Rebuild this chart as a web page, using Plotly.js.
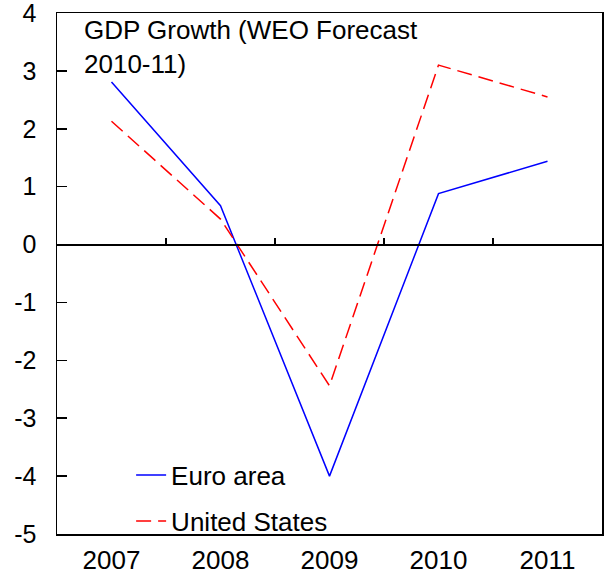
<!DOCTYPE html>
<html>
<head>
<meta charset="utf-8">
<script src="https://cdn.plot.ly/plotly-3.0.1.min.js"></script>
<style>html,body{margin:0;padding:0;background:#fff;}#chart{width:605px;height:575px;}</style>
</head>
<body>
<div id="chart"></div>
<script>
const years = ["2007", "2008", "2009", "2010", "2011"];
const euroArea = [2.81, 0.67, -4.0, 0.88, 1.44];
const unitedStates = [2.13, 0.44, -2.44, 3.10, 2.55];
const yTicks = [-5, -4, -3, -2, -1, 0, 1, 2, 3, 4];

const FONT = "Liberation Sans, Arial, sans-serif";
const idx = years.map((_, i) => i);

const traces = [
  {
    x: years, y: euroArea, type: "scatter", mode: "lines", name: "Euro area",
    line: {color: "#0000ff", width: 1.5}, legend: "legend", hoverinfo: "skip"
  },
  {
    x: years, y: unitedStates, type: "scatter", mode: "lines", name: "United States",
    line: {color: "#ff0000", width: 1.5, dash: "15px,7px"}, legend: "legend2", hoverinfo: "skip"
  },
  {
    x: idx, y: euroArea, xaxis: "x2", type: "scatter", mode: "lines",
    line: {width: 0}, opacity: 0, showlegend: false, hoverinfo: "skip"
  }
];

const layout = {
  width: 605, height: 575,
  margin: {l: 57, r: 3, t: 13, b: 41},
  paper_bgcolor: "#fff", plot_bgcolor: "#fff",
  font: {family: FONT, color: "#000", size: 25},
  title: {
    text: "GDP Growth (WEO Forecast<br>2010-11)",
    font: {family: FONT, size: 26, color: "#000"},
    xref: "container", yref: "container",
    x: 84 / 605, xanchor: "left",
    y: 1 - 39 / 575, yanchor: "top"
  },
  xaxis: {
    type: "category", categoryarray: years, range: [-0.5, 4.5],
    showline: true, mirror: true, linecolor: "#000", linewidth: 1.5,
    ticks: "", showgrid: false, zeroline: false,
    tickfont: {family: FONT, size: 26, color: "#000"},
    ticklabelstandoff: 2, ticklabeloverflow: "allow"
  },
  xaxis2: {
    overlaying: "x", anchor: "free", position: 5 / 9, side: "bottom",
    range: [-0.5, 4.5], tickvals: [0.5, 1.5, 2.5, 3.5],
    showticklabels: false, ticks: "inside", ticklen: 6, tickwidth: 2, tickcolor: "#000",
    showline: true, linecolor: "#000", linewidth: 2, showgrid: false, zeroline: false
  },
  yaxis: {
    range: [-5, 4], tickvals: yTicks, ticktext: yTicks.map(String),
    showline: true, mirror: true, linecolor: "#000", linewidth: 1.5,
    ticks: "inside", ticklen: 10, tickwidth: 1.5, tickcolor: "#000",
    showgrid: false, zeroline: false,
    tickfont: {family: FONT, size: 25, color: "#000"},
    ticklabelstandoff: 14, ticklabeloverflow: "allow"
  },
  legend: {
    x: 0.136, y: 1 - (475 - 13) / 521, xref: "paper", yref: "paper",
    xanchor: "left", yanchor: "middle",
    bgcolor: "rgba(0,0,0,0)", font: {family: FONT, size: 26, color: "#000"}
  },
  legend2: {
    x: 0.136, y: 1 - (521 - 13) / 521, xref: "paper", yref: "paper",
    xanchor: "left", yanchor: "middle",
    bgcolor: "rgba(0,0,0,0)", font: {family: FONT, size: 26, color: "#000"}
  },
  showlegend: true
};

Plotly.newPlot("chart", traces, layout, {staticPlot: true, displayModeBar: false});
</script>
</body>
</html>
